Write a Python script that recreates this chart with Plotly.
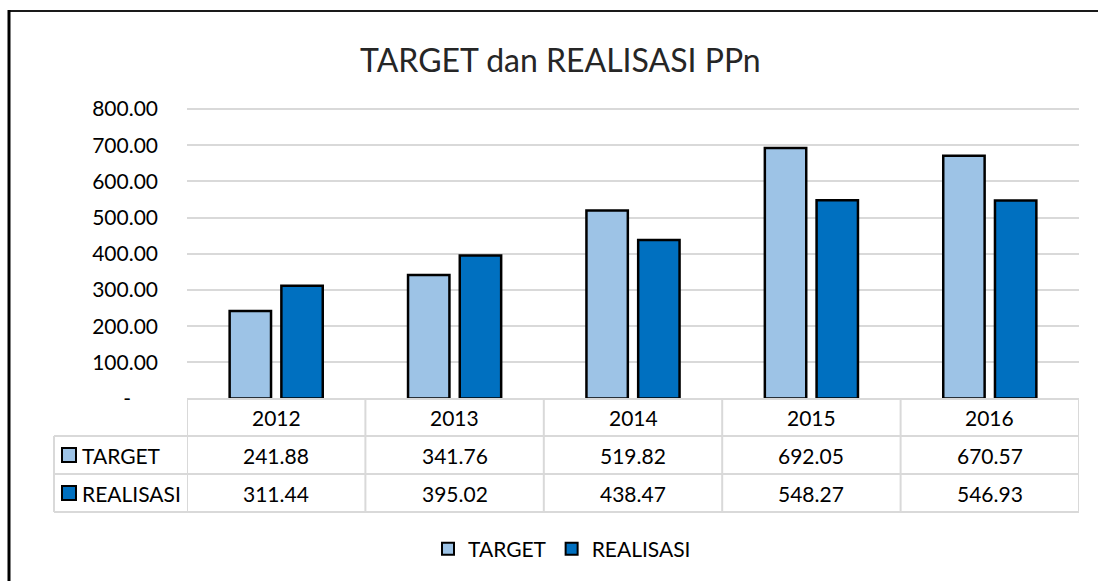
import plotly.graph_objects as go

# ---------------- data ----------------
years = ["2012", "2013", "2014", "2015", "2016"]
target = [241.88, 341.76, 519.82, 692.05, 670.57]
realisasi = [311.44, 395.02, 438.47, 548.27, 546.93]
series_names = ["TARGET", "REALISASI"]
y_tick_vals = [0, 100, 200, 300, 400, 500, 600, 700, 800]
y_tick_text = ["-\u00a0\u00a0\u00a0\u00a0\u00a0", "100.00", "200.00", "300.00", "400.00",
               "500.00", "600.00", "700.00", "800.00"]
title_text = "TARGET dan REALISASI PPn"

# ---------------- styling ----------------
W, H = 1098, 581
FONT = "Lato"
C_TARGET = "#9DC3E6"
C_REAL = "#0070C0"
GRID = "#D9D9D9"
TXT = "#000000"


def px(x):
    return x / W


def py(y):
    return 1 - y / H


plot_left, plot_right = 187, 1079
y800_px, y0_px = 109, 398.6
y_max = 812
plot_top = y0_px - (y0_px - y800_px) / 800 * y_max
row_lines = [399, 436, 474, 512]
label_left = 54
row_centers = [417.5, 455, 493]
n = len(years)

fig = go.Figure()
fig.add_trace(go.Bar(x=years, y=target, name=series_names[0],
                     marker=dict(color=C_TARGET, line=dict(color="#000000", width=2.5))))
fig.add_trace(go.Bar(x=years, y=realisasi, name=series_names[1],
                     marker=dict(color=C_REAL, line=dict(color="#000000", width=2.5))))

shapes = []
# outer chart border (top and left visible)
shapes.append(dict(type="line", xref="paper", yref="paper", x0=px(9), x1=1.0,
                   y0=py(11), y1=py(11), line=dict(color="#1a1a1a", width=2)))
shapes.append(dict(type="line", xref="paper", yref="paper", x0=px(9), x1=px(9),
                   y0=py(10), y1=0.0, line=dict(color="#000000", width=3)))
# data table horizontal lines
shapes.append(dict(type="line", xref="paper", yref="paper", x0=px(plot_left), x1=px(plot_right),
                   y0=py(row_lines[0]), y1=py(row_lines[0]), line=dict(color=GRID, width=2)))
for yl in row_lines[1:]:
    shapes.append(dict(type="line", xref="paper", yref="paper", x0=px(label_left), x1=px(plot_right),
                       y0=py(yl), y1=py(yl), line=dict(color=GRID, width=2)))
# vertical lines
shapes.append(dict(type="line", xref="paper", yref="paper", x0=px(label_left), x1=px(label_left),
                   y0=py(row_lines[1]), y1=py(row_lines[3]), line=dict(color=GRID, width=2)))
for i in range(n + 1):
    shapes.append(dict(type="line", xref="x", yref="paper", x0=i - 0.5, x1=i - 0.5,
                       y0=py(row_lines[0]), y1=py(row_lines[3]), line=dict(color=GRID, width=2)))
# legend keys inside table
for k, col in enumerate([C_TARGET, C_REAL]):
    cy = row_centers[k + 1]
    shapes.append(dict(type="rect", xref="paper", yref="paper", x0=px(62), x1=px(76),
                       y0=py(cy - 7), y1=py(cy + 7), fillcolor=col,
                       line=dict(color="#000000", width=2)))

annotations = []
annotations.append(dict(text=title_text, x=px(560), y=py(60), xref="paper", yref="paper",
                        showarrow=False, xanchor="center", yanchor="middle",
                        font=dict(family=FONT, size=32, color="#262626")))
for i, yr in enumerate(years):
    annotations.append(dict(text=yr, x=i, xref="x", y=py(row_centers[0]), yref="paper",
                            showarrow=False, xanchor="center", yanchor="middle",
                            font=dict(family=FONT, size=21, color=TXT)))
    annotations.append(dict(text=f"{target[i]:.2f}", x=i, xref="x", y=py(row_centers[1]), yref="paper",
                            showarrow=False, xanchor="center", yanchor="middle",
                            font=dict(family=FONT, size=21, color=TXT)))
    annotations.append(dict(text=f"{realisasi[i]:.2f}", x=i, xref="x", y=py(row_centers[2]), yref="paper",
                            showarrow=False, xanchor="center", yanchor="middle",
                            font=dict(family=FONT, size=21, color=TXT)))
for k, name in enumerate(series_names):
    annotations.append(dict(text=name, x=px(80), xref="paper", y=py(row_centers[k + 1]), yref="paper",
                            showarrow=False, xanchor="left", yanchor="middle",
                            font=dict(family=FONT, size=21, color=TXT)))

fig.update_layout(
    width=W, height=H,
    margin=dict(l=0, r=0, t=0, b=0, pad=0, autoexpand=False),
    paper_bgcolor="white", plot_bgcolor="white",
    barmode="group", bargap=0.42, bargroupgap=0.2,
    font=dict(family=FONT, color=TXT, size=21),
    showlegend=True,
    legend=dict(orientation="h", x=px(562), xanchor="center", y=py(549), yanchor="middle",
                font=dict(family=FONT, size=21, color=TXT), itemsizing="constant",
                bgcolor="rgba(0,0,0,0)"),
    xaxis=dict(type="category", categoryorder="array", categoryarray=years,
               range=[-0.5, n - 0.5], autorange=False,
               domain=[px(plot_left), px(plot_right)], showticklabels=False,
               showline=False, ticks="", showgrid=False, zeroline=False, fixedrange=True),
    yaxis=dict(domain=[py(y0_px), py(plot_top)], range=[0, y_max], autorange=False,
               tickvals=y_tick_vals, ticktext=y_tick_text, showgrid=True, gridcolor=GRID,
               gridwidth=2, zeroline=False, showline=False, ticks="", automargin=False,
               ticklabelstandoff=28, tickfont=dict(family=FONT, size=21, color=TXT)),
    shapes=shapes,
    annotations=annotations,
)

fig.write_html(
    "out.html",
    config={"displayModeBar": False, "responsive": False},
    post_script="document.body.style.margin='0';document.documentElement.style.overflow='hidden';document.body.style.overflow='hidden';",
)
